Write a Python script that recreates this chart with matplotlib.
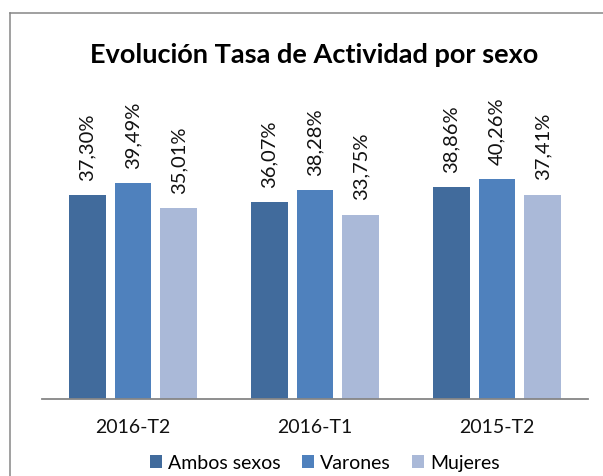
import matplotlib
matplotlib.use("Agg")
import matplotlib.pyplot as plt
from matplotlib.patches import Patch
from matplotlib.lines import Line2D
import numpy as np

plt.rcParams['font.family'] = ['Lato', 'DejaVu Sans']

periodos = ['2016-T2', '2016-T1', '2015-T2']
series = ['Ambos sexos', 'Varones', 'Mujeres']
ambos = [37.30, 36.07, 38.86]
varones = [39.49, 38.28, 40.26]
mujeres = [35.01, 33.75, 37.41]
colores = ['#416B9C', '#4F81BD', '#AAB9D8']

W, H = 603, 477
fig = plt.figure(figsize=(W / 100, H / 100), dpi=100)

# axes placed in pixel terms: axis line at y=400, x from 42 to 588
px_per_pct = 5.46
ymax = 55
top_px = 400 - ymax * px_per_pct
ax = fig.add_axes([42 / W, 1 - 400 / H, (588 - 42) / W, (400 - top_px) / H])

x = np.arange(len(periodos))
ancho = 0.198
desp = 0.25
for i, (vals, col) in enumerate(zip([ambos, varones, mujeres], colores)):
    bars = ax.bar(x + (i - 1) * desp, vals, ancho, color=col, zorder=2)
    for b, v in zip(bars, vals):
        ax.annotate(f"{v:.2f}%".replace('.', ','),
                    (b.get_x() + b.get_width() / 2, b.get_height()),
                    xytext=(0, 11), textcoords='offset points',
                    rotation=90, ha='center', va='bottom',
                    fontsize=14.5, color='#111111')

ax.set_xlim(-0.5, 2.5)
ax.set_ylim(0, ymax)
ax.set_xticks(x)
ax.set_xticklabels(periodos, fontsize=14, color='#111111')
ax.tick_params(axis='x', length=0, pad=14)
ax.set_yticks([])
for s in ['top', 'right', 'left']:
    ax.spines[s].set_visible(False)
ax.spines['bottom'].set_color('#868686')
ax.spines['bottom'].set_linewidth(1.3)

fig.text(314 / W, 1 - 55 / H, 'Evolución Tasa de Actividad por sexo',
         ha='center', va='center', fontsize=19.5, fontweight='bold', color='black')

handles = [Patch(facecolor=c, edgecolor='none') for c in colores]
fig.legend(handles, series, loc='center', bbox_to_anchor=(325 / W, 1 - 464 / H),
           ncol=3, frameon=False, fontsize=14, handlelength=0.62, handleheight=0.62,
           handletextpad=0.3, columnspacing=1.1, borderpad=0)

# outer chart frame (left and top edges visible)
fig.add_artist(Line2D([10 / W, 10 / W], [0, 1 - 14 / H], transform=fig.transFigure,
                      color='#868686', lw=1.1))
fig.add_artist(Line2D([10 / W, 1], [1 - 14 / H, 1 - 14 / H], transform=fig.transFigure,
                      color='#868686', lw=1.1))

fig.savefig('out.png', dpi=100)
